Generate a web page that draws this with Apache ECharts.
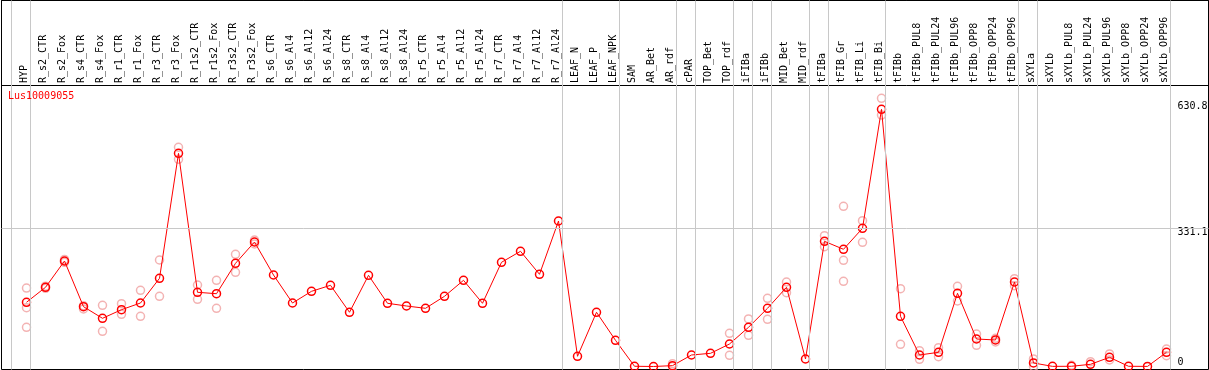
<!DOCTYPE html>
<html>
<head>
<meta charset="utf-8">
<script src="https://cdn.jsdelivr.net/npm/echarts@6/dist/echarts.min.js"></script>
<style>html,body{margin:0;padding:0;background:#fff}#c{width:1209px;height:370px}</style>
</head>
<body>
<div id="c"></div>
<script>
var categories = ['HYP','R_s2_CTR','R_s2_Fox','R_s4_CTR','R_s4_Fox','R_r1_CTR','R_r1_Fox','R_r3_CTR','R_r3_Fox','R_r1s2_CTR','R_r1s2_Fox','R_r3s2_CTR','R_r3s2_Fox','R_s6_CTR','R_s6_Al4','R_s6_Al12','R_s6_Al24','R_s8_CTR','R_s8_Al4','R_s8_Al12','R_s8_Al24','R_r5_CTR','R_r5_Al4','R_r5_Al12','R_r5_Al24','R_r7_CTR','R_r7_Al4','R_r7_Al12','R_r7_Al24','LEAF_N','LEAF_P','LEAF_NPK','SAM','AR_Bet','AR_rdf','cPAR','TOP_Bet','TOP_rdf','iFIBa','iFIBb','MID_Bet','MID_rdf','tFIBa','tFIB_Gr','tFIB_Li','tFIB_Bi','tFIBb','tFIBb_PUL8','tFIBb_PUL24','tFIBb_PUL96','tFIBb_OPP8','tFIBb_OPP24','tFIBb_OPP96','sXYLa','sXYLb','sXYLb_PUL8','sXYLb_PUL24','sXYLb_PUL96','sXYLb_OPP8','sXYLb_OPP24','sXYLb_OPP96'];

var meanValues = [153.5,189.3,252.2,143.0,115.2,135.8,151.8,210.8,509.6,177.4,174.0,246.7,297.6,218.7,151.8,179.7,194.1,129.6,218.0,151.1,144.6,139.1,167.8,206.0,151.1,249.1,275.4,220.4,347.8,24.4,129.6,62.6,0.5,0,2.0,27.5,31.5,53.8,93.7,139.1,189.3,17.9,299.3,280.2,330.4,614.9,120.0,27.5,33.9,175.0,65.7,63.4,202.0,8.4,0.3,0.5,5.2,21.9,0.5,0.2,33.9];

var replicateValues = [
  [187.5,140.6,93.7],[192,187],[256,249],[145.4,137.5],[146.3,84.1],[150.1,124.8],[182.2,120.0],[254.6,167.8],[524.0,495.3],[194.8,160.6],[206.0,139.1],[268.2,225.2],[302.4,292.9],
  [],[],[],[],[],[],[],[],[],[],[],[],[],[],[],[],
  [],[],[],[],[],[6.7,0],[],[],[79.3,26.7],[113.6,74.6],[163.0,112.8],[202.0,176.4],[],
  [312.7,286.4],[383.0,253.9,203.7],[348.6,296.9],[641.2,601.2],[186.0,53.1],[37.8,17.2],[45.0,23.4],[191.7,156.6],[77.7,50.7],[67.4,58.6],[209.9,193.2],
  [18.0,0],[],[2.8],[11.5],[29.9,15.5],[],[],[41.8,25.8]
];

// group separators are drawn right after these categories ('' = before the first)
var groupEnds = ['', 'HYP', 'R_r7_Al24', 'LEAF_NPK', 'AR_rdf', 'cPAR', 'TOP_rdf', 'iFIBa', 'iFIBb', 'MID_rdf', 'tFIBa', 'tFIB_Bi', 'tFIBb_OPP96', 'sXYLa', 'sXYLb_OPP96'];

var yTickLabels = [0, 331.1, 630.8];
var refLineValue = 331.1;
var geneName = 'Lus10009055';

var FONT = '"DejaVu Sans Mono", "Liberation Mono", monospace';
var band = 19;
var gridLeft = 1.5, gridRight = 0.5, chartW = 1209;
var plotW = chartW - gridLeft - gridRight;
var firstCenter = 26.5;
var xMin = -(firstCenter - gridLeft) / band;
var xMax = xMin + plotW / band;
var sepOffset = 3.5 / band;

var sepData = groupEnds.map(function (n) {
  var k = n === '' ? -1 : categories.indexOf(n);
  return { xAxis: k + sepOffset };
});

var lineData = meanValues.map(function (v, i) { return [i, v]; });
var repData = [];
replicateValues.forEach(function (arr, i) {
  arr.forEach(function (v) { repData.push([i, v]); });
});

var chart = echarts.init(document.getElementById('c'));
chart.setOption({
  animation: false,
  backgroundColor: '#fff',
  title: {
    text: geneName, left: 8, top: 91, padding: 0,
    textStyle: { color: '#ff0000', fontSize: 10, fontWeight: 'normal', fontFamily: FONT }
  },
  grid: [
    { left: gridLeft, right: gridRight, top: 0.5, bottom: 0.5, show: true, borderColor: '#000', borderWidth: 1, backgroundColor: 'transparent', outerBoundsMode: 'none', containLabel: false },
    { left: 14.5, width: categories.length * band, top: 85, height: 20, show: false, outerBoundsMode: 'none', containLabel: false },
    { left: gridLeft, right: gridRight, top: 0.5, height: 85, show: true, borderColor: '#000', borderWidth: 1, backgroundColor: 'transparent', outerBoundsMode: 'none', containLabel: false }
  ],
  xAxis: [
    { type: 'value', gridIndex: 0, min: xMin, max: xMax, show: false },
    { type: 'category', gridIndex: 1, data: categories, position: 'top', boundaryGap: true,
      axisLine: { show: false }, axisTick: { show: false }, splitLine: { show: false },
      axisLabel: { interval: 0, rotate: 90, margin: 2, fontSize: 10, fontFamily: FONT, color: '#000' } },
    { type: 'value', gridIndex: 2, show: false, min: 0, max: 1 }
  ],
  yAxis: [
    { type: 'value', gridIndex: 0, min: -7.2, max: 875, position: 'right',
      axisLine: { show: false }, axisTick: { show: false }, splitLine: { show: false },
      axisLabel: {
        inside: true, margin: 31, align: 'left', customValues: yTickLabels,
        fontSize: 10, fontFamily: FONT, color: '#000',
        formatter: function (v) { return v === 0 ? '{b|0}' : '{t|' + v + '}'; },
        rich: {
          t: { fontSize: 10, fontFamily: FONT, color: '#000', lineHeight: 10, padding: [8, 0, 0, 0] },
          b: { fontSize: 10, fontFamily: FONT, color: '#000', lineHeight: 10, padding: [0, 0, 8, 0] }
        }
      } },
    { type: 'value', gridIndex: 1, show: false },
    { type: 'value', gridIndex: 2, show: false, min: 0, max: 1 }
  ],
  series: [
    {
      type: 'scatter', xAxisIndex: 0, yAxisIndex: 0, z: 2,
      data: repData, symbol: 'circle', symbolSize: 8,
      itemStyle: { color: 'rgba(0,0,0,0)', borderColor: '#f0a0a0', borderWidth: 1.5 },
      markLine: {
        silent: true, symbol: ['none', 'none'], animation: false,
        label: { show: false },
        lineStyle: { color: '#c8c8c8', width: 1, type: 'solid' },
        emphasis: { disabled: true },
        data: sepData.concat([{ yAxis: refLineValue }])
      }
    },
    {
      type: 'line', xAxisIndex: 0, yAxisIndex: 0, z: 3,
      data: lineData, symbol: 'circle', symbolSize: 8, showSymbol: true,
      color: '#ff0000',
      lineStyle: { color: '#ff0000', width: 1 },
      itemStyle: { color: 'rgba(0,0,0,0)', borderColor: '#ff0000', borderWidth: 1.5 }
    }
  ]
});
</script>
</body>
</html>
